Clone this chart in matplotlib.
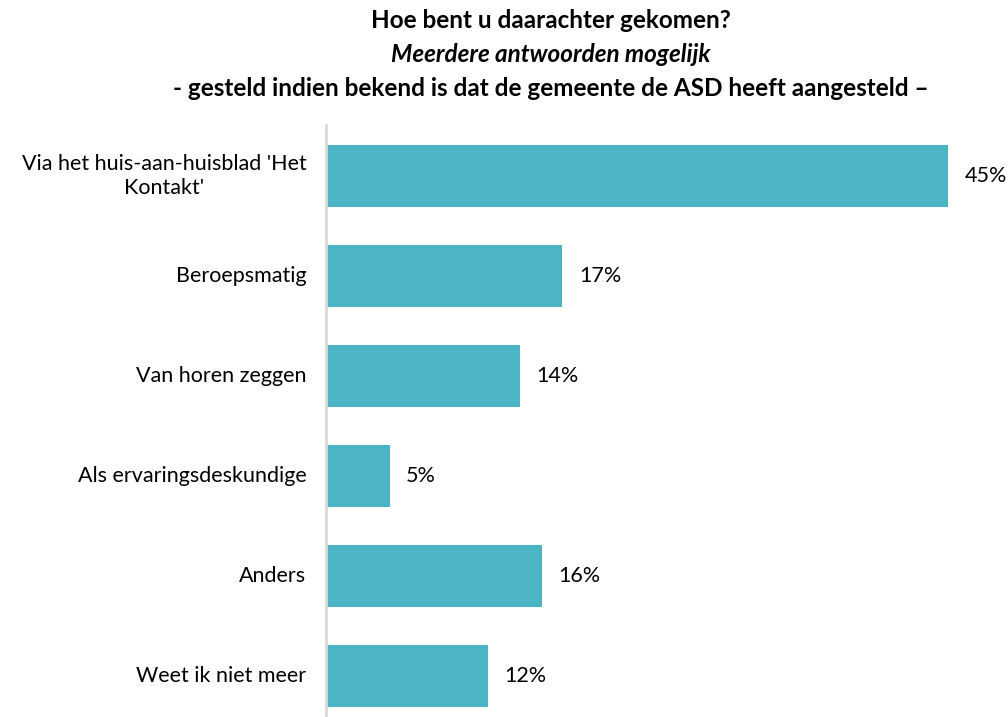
import matplotlib.pyplot as plt

plt.rcParams['font.family'] = ['Lato', 'DejaVu Sans']

categories = ["Via het huis-aan-huisblad 'Het\nKontakt'", 'Beroepsmatig', 'Van horen zeggen',
              'Als ervaringsdeskundige', 'Anders', 'Weet ik niet meer']
# bar lengths, labels as printed
values = [45.0, 17.1, 14.0, 4.6, 15.6, 11.7]
labels = ['45%', '17%', '14%', '5%', '16%', '12%']

W, H = 1008, 717
fig = plt.figure(figsize=(W / 100, H / 100), dpi=100)
ax = fig.add_axes([326 / W, 0, (948 - 326) / W, 1 - 125 / H])

y = list(range(len(categories)))
ax.barh(y, values, height=0.62, color='#4BB5C5')
ax.set_ylim(5.41, -0.51)
ax.set_xlim(0, 45)

for yi, v, lab in zip(y, values, labels):
    ax.text(v + 1.2, yi, lab, va='center', ha='left', fontsize=15.5, clip_on=False)

# category labels: right aligned next to the axis, wrapped lines centred
ax.set_yticks([])
for yi, cat in zip(y, categories):
    ax.annotate(cat, xy=(0, yi), xytext=(-14, 0), textcoords='offset points',
                ha='right', va='center', multialignment='center', fontsize=15.5,
                annotation_clip=False)
ax.set_xticks([])
for s in ['top', 'right', 'bottom']:
    ax.spines[s].set_visible(False)
ax.spines['left'].set_color('#d9d9d9')
ax.spines['left'].set_linewidth(2)

cx = 551 / W
fig.text(cx, 1 - 21 / H, 'Hoe bent u daarachter gekomen?', ha='center', va='center',
         fontsize=17.5, fontweight='bold')
fig.text(cx, 1 - 55 / H, 'Meerdere antwoorden mogelijk', ha='center', va='center',
         fontsize=17.5, fontweight='bold', fontstyle='italic')
fig.text(cx, 1 - 89 / H, '- gesteld indien bekend is dat de gemeente de ASD heeft aangesteld \u2013',
         ha='center', va='center', fontsize=17.5, fontweight='bold')

fig.savefig('out.png', dpi=100)
